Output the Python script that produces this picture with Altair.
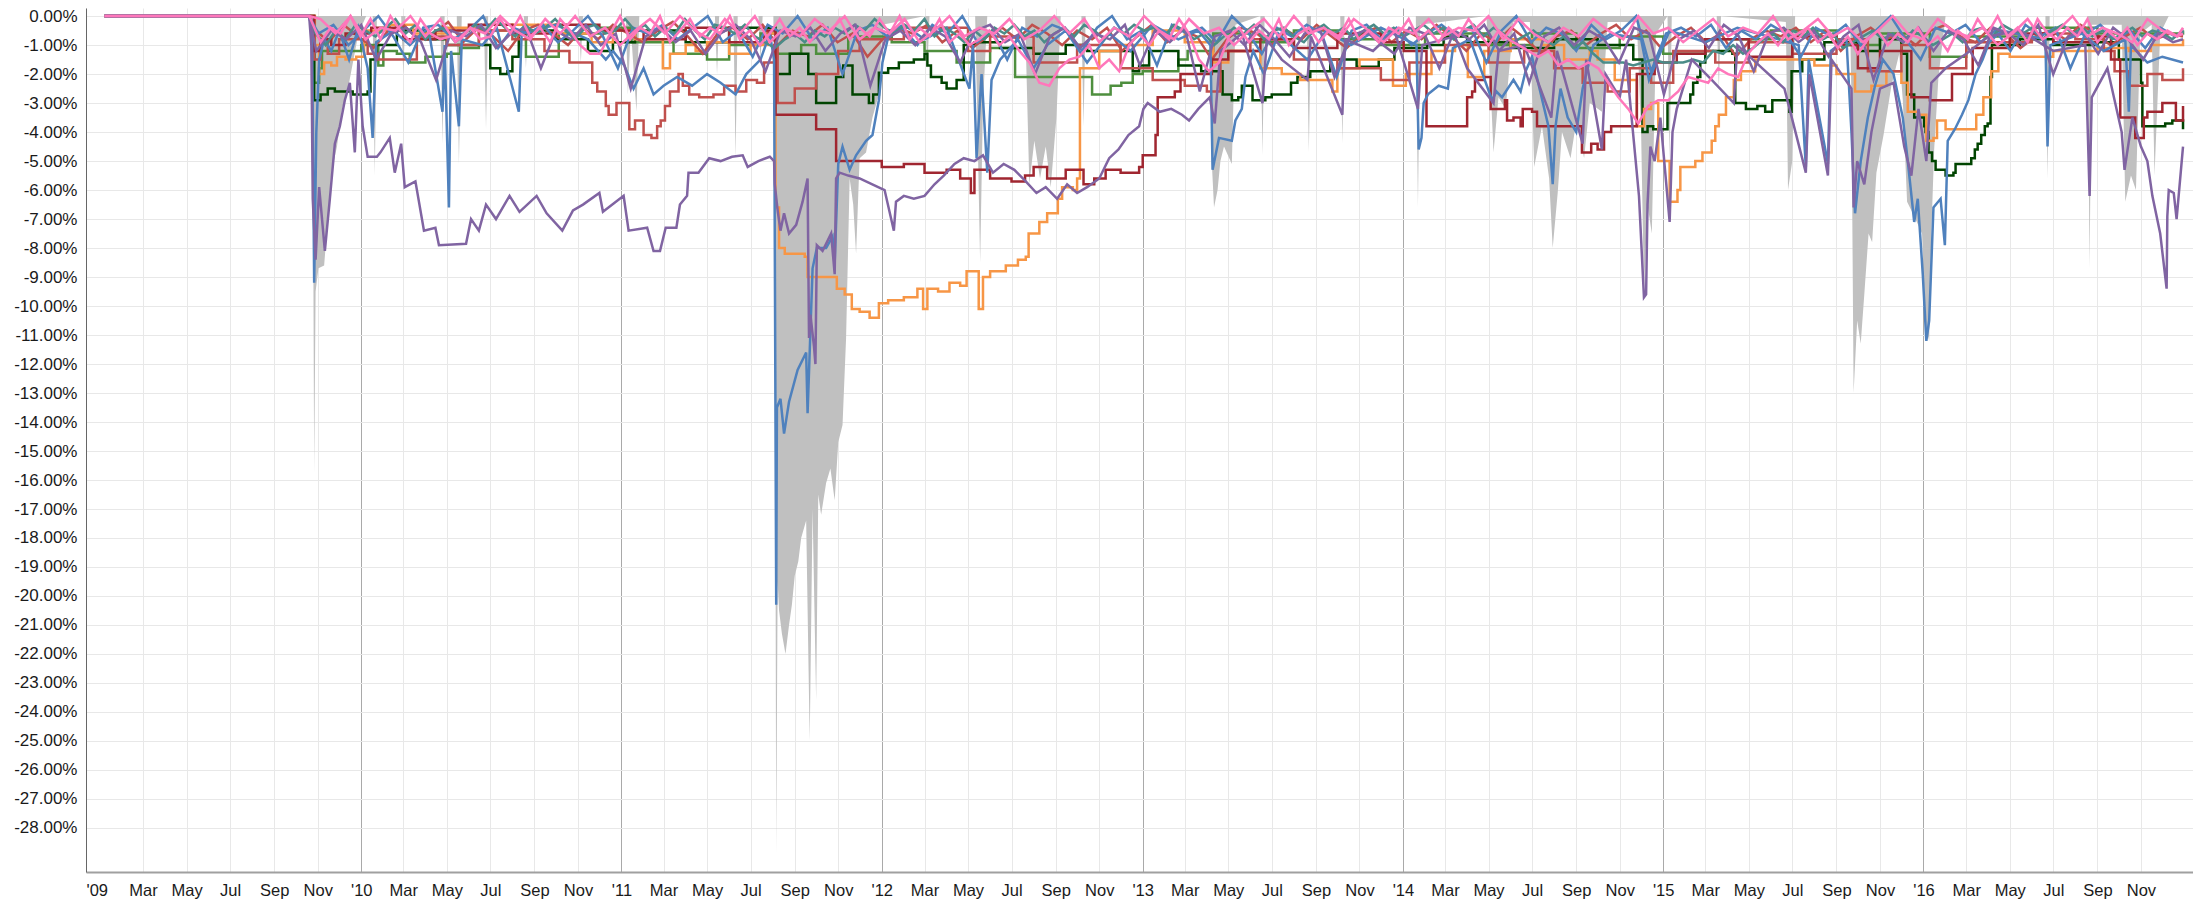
import altair as alt
import pandas as pd

# ---------------- data (drawdown, % units) ----------------
grey_pts = [("2009-01-06",0),("2009-10-22",0),("2009-10-25",-3.0),("2009-10-27",-15.8),("2009-10-29",-9.5),("2009-11-02",-8.7),("2009-11-10",-8.6),("2009-11-15",-7.0),("2009-11-20",-5.4),("2009-11-28",-4.5),("2009-12-05",-3.2),("2009-12-15",-2.3),("2009-12-28",-0.6),("2010-01-08",0),
("2010-01-17",0),("2010-01-20",-5.5),("2010-01-23",0),("2010-02-26",0),("2010-03-01",-2.0),("2010-03-04",0),
("2010-04-22",0),("2010-04-25",-4.4),("2010-04-28",0),("2010-05-15",0),("2010-05-18",-5.1),("2010-05-22",0),
("2010-06-22",0),("2010-06-25",-3.9),("2010-06-28",0),("2010-08-17",0),("2010-08-20",-1.8),("2010-08-23",0),
("2010-11-02",0),("2010-11-05",-1.6),("2010-11-08",0),("2011-01-07",0),("2011-01-10",-2.7),("2011-01-14",-0.4),("2011-01-22",-3.3),("2011-01-26",0),
("2011-05-12",0),("2011-05-15",-2.0),("2011-05-18",0),("2011-06-07",0),("2011-06-10",-4.9),("2011-06-13",0),
("2011-07-12",0),("2011-07-15",-1.5),("2011-07-18",0),
("2011-08-02",0),("2011-08-04",-7.0),("2011-08-06",-28.9),("2011-08-08",-19.5),("2011-08-10",-20.5),("2011-08-14",-21.3),("2011-08-19",-22.0),("2011-08-24",-21.0),("2011-08-28",-20.3),("2011-09-01",-19.3),("2011-09-06",-18.8),("2011-09-10",-18.0),("2011-09-17",-17.4),("2011-09-22",-25.0),("2011-09-26",-17.0),("2011-10-01",-23.6),("2011-10-04",-16.5),("2011-10-08",-17.2),("2011-10-15",-16.1),("2011-10-21",-15.6),("2011-10-27",-16.7),("2011-11-01",-14.7),("2011-11-07",-14.1),("2011-11-12",-11.1),("2011-11-17",-5.6),("2011-11-22",-6.5),("2011-11-26",-8.2),("2011-12-01",-4.9),("2011-12-10",-4.7),("2011-12-19",-3.5),("2011-12-28",-2.7),("2012-01-02",-0.3),
("2012-03-02",0),("2012-03-05",-1.8),("2012-03-08",0),
("2012-05-11",0),("2012-05-14",-3.5),("2012-05-18",-8.5),("2012-05-22",-3.0),("2012-05-28",0),
("2012-07-20",0),("2012-07-26",-5.8),("2012-08-02",-4.3),("2012-08-10",-5.6),("2012-08-18",-4.5),("2012-08-25",-5.9),("2012-09-02",-3.5),("2012-09-08",0),
("2012-10-07",0),("2012-10-10",-3.8),("2012-10-13",0),
("2013-04-04",0),("2013-04-08",-5.1),("2013-04-11",-6.6),("2013-04-16",-6.0),("2013-04-20",-5.0),("2013-04-25",-4.5),("2013-05-06",-5.1),("2013-05-11",-0.3),
("2013-06-15",0),("2013-06-18",-4.8),("2013-06-21",0),("2013-08-19",0),("2013-08-22",-4.7),("2013-08-25",0),
("2013-10-05",0),("2013-10-08",-4.4),("2013-10-11",0),("2014-01-19",0),("2014-01-22",-6.6),("2014-01-25",-0.3),
("2014-04-28",0),("2014-05-04",-2.5),("2014-05-08",-4.7),("2014-05-15",-2.8),("2014-05-25",-3.2),("2014-06-05",-0.2),
("2014-06-28",-0.2),("2014-07-04",-5.2),("2014-07-15",-3.8),("2014-07-25",-5.6),("2014-07-30",-8.0),("2014-08-06",-6.1),("2014-08-12",-4.0),("2014-08-24",-4.9),("2014-09-02",-3.5),("2014-09-12",-4.9),("2014-09-20",-3.0),("2014-10-07",-3.3),("2014-10-15",-0.2),
("2014-11-25",-0.2),("2014-12-01",-4.0),("2014-12-05",-9.5),("2014-12-10",-6.5),("2014-12-16",-7.5),("2014-12-22",-0.6),
("2015-01-07",0),("2015-01-10",-5.0),("2015-01-13",0),("2015-03-17",0),("2015-03-20",-2.5),("2015-03-23",0),
("2015-06-22",-0.2),("2015-06-25",-6.0),("2015-07-01",-5.0),("2015-07-05",0),
("2015-09-20",0),("2015-09-22",-2.9),("2015-09-25",-13.0),("2015-09-30",-10.5),("2015-10-05",-11.3),("2015-10-10",-9.6),("2015-10-16",-7.5),("2015-10-21",-7.8),("2015-10-27",-5.4),("2015-11-06",-4.1),("2015-11-17",-2.4),("2015-11-28",-1.3),("2015-12-03",-2.9),("2015-12-09",-6.4),("2015-12-19",-6.9),("2015-12-30",-7.5),("2016-01-04",-10.7),("2016-01-09",-11.2),("2016-01-12",-7.5),("2016-01-16",-4.6),("2016-01-22",-2.1),("2016-02-01",0),
("2016-06-20",0),("2016-06-23",-5.6),("2016-06-26",0),("2016-08-18",0),("2016-08-21",-8.7),("2016-08-24",-0.3),
("2016-10-05",-0.3),("2016-10-10",-6.4),("2016-10-18",-5.5),("2016-10-25",-6.0),("2016-10-31",-0.6),
("2016-11-16",-0.3),("2016-11-20",-5.5),("2016-11-28",-0.6),("2016-12-10",0),("2016-12-30",0)]

blue_pts = [("2009-01-06",0),("2009-10-20",0),("2009-10-24",-0.5),("2009-10-27",-9.2),("2009-10-30",-4.0),("2009-11-03",-1.5),("2009-11-10",-0.8),("2009-11-20",-1.2),("2009-12-01",-0.5),("2009-12-15",-1.5),("2009-12-28",-0.4),("2010-01-10",-1.8),("2010-01-17",-4.2),("2010-01-22",-0.9),("2010-02-15",-0.5),("2010-03-10",-1.0),("2010-04-05",-0.4),("2010-04-25",-3.3),("2010-04-28",-1.0),("2010-05-04",-6.6),("2010-05-07",-1.2),("2010-05-18",-3.8),("2010-05-22",-0.8),("2010-06-20",-1.0),("2010-07-10",-0.4),("2010-08-10",-3.3),("2010-08-14",-0.6),("2010-10-01",-0.3),("2010-11-15",-0.8),("2010-12-10",-1.5),("2010-12-20",-1.2),("2011-01-05",-1.7),("2011-01-18",-2.5),("2011-02-01",-1.8),("2011-02-15",-2.7),("2011-03-01",-2.4),("2011-03-20",-2.1),("2011-04-10",-2.4),("2011-05-01",-2.0),("2011-05-20",-2.3),("2011-06-10",-2.7),("2011-06-25",-2.0),("2011-07-15",-1.5),("2011-07-28",-0.6),("2011-08-03",-1.5),("2011-08-06",-20.3),("2011-08-07",-13.5),("2011-08-12",-13.2),("2011-08-17",-14.4),("2011-08-24",-13.3),("2011-09-05",-12.2),("2011-09-17",-11.6),("2011-09-19",-13.7),("2011-09-26",-8.7),("2011-10-02",-8.0),("2011-10-15",-8.0),("2011-10-24",-7.6),("2011-10-27",-8.5),("2011-11-01",-5.1),("2011-11-07",-4.5),("2011-11-17",-5.3),("2011-11-26",-4.8),("2011-12-10",-4.3),("2011-12-19",-4.1),("2011-12-28",-2.9),("2012-01-02",-1.6),("2012-01-12",-0.5),("2012-02-01",-0.3),("2012-03-01",-0.8),("2012-04-01",-0.4),("2012-05-03",-2.5),("2012-05-08",-1.0),("2012-05-13",-4.9),("2012-05-20",-2.0),("2012-05-28",-5.4),("2012-06-03",-2.2),("2012-06-15",-1.5),("2012-07-10",-0.8),("2012-08-01",-1.8),("2012-08-20",-1.0),("2012-09-15",-0.5),("2012-10-15",-1.6),("2012-11-15",-0.6),("2012-12-15",-1.2),("2013-01-15",-0.3),("2013-02-20",-0.8),("2013-03-20",-0.5),("2013-04-06",-1.0),("2013-04-09",-5.3),("2013-04-18",-4.2),("2013-05-06",-4.3),("2013-05-11",-3.6),("2013-05-20",-3.2),("2013-05-25",-2.1),("2013-06-05",-1.2),("2013-06-20",-2.0),("2013-07-10",-0.6),("2013-08-20",-1.5),("2013-09-15",-0.5),("2013-10-20",-1.0),("2013-12-01",-0.4),("2014-01-20",-1.0),("2014-01-23",-4.6),("2014-01-27",-4.2),("2014-01-30",-3.0),("2014-02-05",-2.7),("2014-02-20",-2.4),("2014-03-05",-2.5),("2014-03-12",-1.1),("2014-04-05",-0.8),("2014-05-06",-2.9),("2014-05-12",-2.6),("2014-05-20",-2.8),("2014-06-05",-2.2),("2014-06-15",-2.6),("2014-06-22",-1.9),("2014-07-01",-1.4),("2014-07-24",-3.8),("2014-07-30",-5.8),("2014-08-03",-3.8),("2014-08-10",-2.5),("2014-08-20",-3.5),("2014-09-01",-4.0),("2014-09-10",-2.5),("2014-09-25",-1.0),("2014-10-20",-0.6),("2014-12-01",-0.8),("2014-12-12",-2.2),("2015-01-10",-0.5),("2015-03-01",-0.9),("2015-04-15",-0.4),("2015-07-10",-1.0),("2015-07-20",-5.2),("2015-07-24",-1.5),("2015-08-20",-5.1),("2015-08-24",-1.2),("2015-09-15",-0.8),("2015-09-22",-4.0),("2015-09-27",-6.8),("2015-10-05",-5.0),("2015-10-15",-3.5),("2015-10-25",-2.4),("2015-11-05",-1.5),("2015-11-20",-2.0),("2015-12-03",-3.5),("2015-12-10",-5.0),("2015-12-19",-7.1),("2015-12-24",-6.3),("2015-12-31",-8.9),("2016-01-05",-11.2),("2016-01-09",-10.5),("2016-01-15",-6.6),("2016-01-25",-6.3),("2016-01-31",-7.9),("2016-02-04",-4.3),("2016-02-14",-3.9),("2016-02-24",-3.4),("2016-03-04",-2.9),("2016-03-14",-2.0),("2016-03-24",-1.5),("2016-04-02",-0.9),("2016-04-20",-0.5),("2016-06-20",-0.8),("2016-06-23",-4.5),("2016-06-27",-1.0),("2016-08-10",-0.6),("2016-09-10",-1.2),("2016-10-10",-0.8),("2016-10-15",-3.3),("2016-10-18",-1.0),("2016-11-10",-1.6),("2016-12-01",-1.4),("2016-12-30",-1.6)]

purple_pts = [("2009-01-06",0),("2009-10-20",0),("2009-10-23",-1.0),("2009-10-25",-6.3),("2009-10-29",-8.4),("2009-11-03",-5.9),("2009-11-11",-8.1),("2009-11-18",-6.3),("2009-11-25",-4.4),("2009-12-02",-3.8),("2009-12-09",-2.9),("2009-12-16",-2.3),("2009-12-23",-4.7),("2009-12-28",-1.5),("2010-01-03",-3.8),("2010-01-10",-4.85),("2010-01-23",-4.85),("2010-01-28",-4.7),("2010-02-10",-4.2),("2010-02-17",-5.4),("2010-02-26",-4.4),("2010-03-03",-5.9),("2010-03-18",-5.7),("2010-03-30",-7.4),("2010-04-15",-7.3),("2010-04-20",-7.9),("2010-05-28",-7.85),("2010-06-04",-7.0),("2010-06-15",-7.4),("2010-06-25",-6.5),("2010-07-09",-7.0),("2010-07-28",-6.2),("2010-08-11",-6.75),("2010-09-04",-6.2),("2010-09-18",-6.8),("2010-10-10",-7.4),("2010-10-25",-6.7),("2010-11-08",-6.5),("2010-12-01",-6.1),("2010-12-06",-6.75),("2011-01-04",-6.2),("2011-01-11",-7.4),("2011-02-06",-7.3),("2011-02-15",-8.1),("2011-02-24",-8.1),("2011-03-04",-7.3),("2011-03-19",-7.3),("2011-03-24",-6.5),("2011-04-03",-6.2),("2011-04-05",-5.4),("2011-04-19",-5.4),("2011-05-04",-4.9),("2011-05-20",-5.0),("2011-06-05",-4.85),("2011-06-20",-4.8),("2011-06-27",-5.2),("2011-07-12",-5.0),("2011-07-28",-4.85),("2011-08-03",-5.0),("2011-08-04",-5.8),("2011-08-08",-6.7),("2011-08-12",-7.4),("2011-08-17",-6.8),("2011-08-24",-7.5),("2011-09-03",-7.2),("2011-09-12",-6.4),("2011-09-19",-5.6),("2011-09-21",-11.1),("2011-09-23",-10.3),("2011-09-28",-11.4),("2011-09-30",-12.0),("2011-10-02",-7.9),("2011-10-10",-8.1),("2011-10-18",-7.7),("2011-10-22",-7.5),("2011-10-27",-8.9),("2011-10-29",-5.6),("2011-11-03",-5.4),("2011-11-15",-5.5),("2011-12-01",-5.6),("2011-12-27",-5.9),("2012-01-05",-6.0),("2012-01-18",-7.4),("2012-01-21",-6.4),("2012-02-01",-6.2),("2012-02-15",-6.3),("2012-03-01",-6.2),("2012-03-15",-5.8),("2012-03-28",-5.5),("2012-04-12",-5.1),("2012-04-25",-4.9),("2012-05-10",-5.0),("2012-05-22",-4.8),("2012-06-05",-5.4),("2012-06-20",-5.1),("2012-07-05",-5.3),("2012-07-21",-5.7),("2012-08-05",-6.1),("2012-08-18",-5.9),("2012-09-03",-6.3),("2012-09-17",-5.8),("2012-10-01",-6.1),("2012-10-15",-5.9),("2012-11-01",-5.6),("2012-11-15",-4.9),("2012-11-28",-4.6),("2012-12-12",-4.1),("2012-12-27",-3.8),("2013-01-02",-3.2),("2013-01-08",-3.0),("2013-01-25",-3.3),("2013-02-10",-3.2),("2013-02-25",-3.4),("2013-03-07",-3.6),("2013-03-20",-3.2),("2013-04-05",-2.8),("2013-04-12",-3.7),("2013-04-20",-1.2),("2013-05-20",-0.6),("2013-06-18",-3.0),("2013-06-24",-0.8),("2013-07-15",-1.5),("2013-08-20",-2.2),("2013-08-25",-0.7),("2013-10-08",-3.4),("2013-10-12",-0.8),("2013-11-20",-1.2),("2013-12-20",-0.5),("2014-01-22",-3.2),("2014-01-28",-1.0),("2014-03-15",-0.7),("2014-04-01",-1.8),("2014-05-08",-3.0),("2014-05-15",-1.2),("2014-06-20",-1.0),("2014-07-28",-3.5),("2014-08-05",-1.2),("2014-09-10",-4.4),("2014-09-15",-1.5),("2014-10-07",-4.6),("2014-10-12",-2.0),("2014-11-01",-2.8),("2014-11-10",-1.5),("2014-11-28",-6.2),("2014-12-05",-9.7),("2014-12-08",-9.6),("2014-12-10",-6.5),("2014-12-14",-4.5),("2014-12-20",-5.0),("2014-12-28",-3.5),("2015-01-10",-7.1),("2015-01-14",-4.0),("2015-01-20",-3.2),("2015-02-10",-1.5),("2015-03-10",-2.2),("2015-04-10",-3.0),("2015-04-15",-1.0),("2015-05-20",-1.8),("2015-06-20",-2.5),("2015-07-20",-5.4),("2015-07-25",-2.0),("2015-08-20",-5.5),("2015-08-25",-1.5),("2015-09-22",-2.5),("2015-09-25",-6.6),("2015-09-30",-5.0),("2015-10-10",-5.8),("2015-10-20",-4.0),("2015-11-01",-2.5),("2015-11-20",-2.3),("2015-12-05",-4.5),("2015-12-15",-5.5),("2015-12-25",-3.2),("2016-01-05",-5.0),("2016-01-12",-2.3),("2016-02-01",-1.8),("2016-03-01",-1.3),("2016-04-01",-0.7),("2016-05-15",-0.5),("2016-07-01",-1.2),("2016-08-15",-1.0),("2016-08-21",-6.2),("2016-08-24",-2.8),("2016-09-15",-1.8),("2016-10-05",-4.0),("2016-10-09",-5.3),("2016-10-20",-3.5),("2016-11-01",-4.5),("2016-11-10",-5.0),("2016-11-17",-6.2),("2016-11-28",-7.5),("2016-12-07",-9.4),("2016-12-08",-6.9),("2016-12-10",-6.0),("2016-12-17",-6.1),("2016-12-21",-7.0),("2016-12-30",-4.5)]

orange_pts = [("2009-01-06",0),("2009-10-20",0),("2009-10-28",-1.0),("2009-11-03",-2.0),("2009-11-10",-1.6),("2009-11-20",-1.7),("2009-11-28",-1.4),("2009-12-10",-1.5),("2009-12-25",-1.4),("2010-01-05",-0.5),("2010-02-10",-0.3),("2010-03-15",-0.6),("2010-05-01",-0.4),("2010-06-15",-0.5),("2010-08-01",-0.3),("2010-10-01",-0.6),("2010-11-20",-0.9),("2010-12-20",-0.5),("2011-01-20",-0.8),("2011-02-28",-1.8),("2011-03-10",-1.3),("2011-04-01",-1.0),("2011-04-15",-1.2),("2011-05-01",-0.9),("2011-06-01",-1.3),("2011-07-01",-1.0),("2011-07-25",-0.6),("2011-08-05",-6.6),("2011-08-10",-8.0),("2011-08-18",-8.2),("2011-09-15",-8.3),("2011-09-19",-9.0),("2011-10-25",-9.0),("2011-10-30",-9.4),("2011-11-10",-9.6),("2011-11-20",-10.1),("2011-12-01",-10.2),("2011-12-15",-10.4),("2011-12-28",-9.9),("2012-01-10",-9.8),("2012-02-01",-9.7),("2012-02-20",-9.4),("2012-02-28",-10.1),("2012-03-05",-9.4),("2012-03-20",-9.5),("2012-04-05",-9.2),("2012-04-20",-9.3),("2012-04-29",-8.8),("2012-05-16",-10.1),("2012-05-22",-9.0),("2012-06-01",-8.8),("2012-06-23",-8.6),("2012-07-10",-8.4),("2012-07-21",-8.3),("2012-07-25",-7.5),("2012-08-09",-7.1),("2012-08-20",-6.8),("2012-09-04",-6.3),("2012-09-10",-5.9),("2012-09-25",-6.0),("2012-10-01",-5.6),("2012-10-05",-1.8),("2012-11-01",-1.2),("2012-12-01",-1.0),("2013-01-15",-0.5),("2013-03-01",-0.9),("2013-04-10",-1.6),("2013-05-01",-1.2),("2013-06-15",-1.8),("2013-07-15",-2.0),("2013-08-10",-2.2),("2013-09-24",-2.6),("2013-10-01",-1.8),("2013-11-01",-1.5),("2013-12-18",-2.4),("2014-01-05",-2.0),("2014-02-10",-1.2),("2014-03-15",-1.0),("2014-04-02",-2.1),("2014-04-25",-1.2),("2014-06-01",-0.8),("2014-07-15",-1.0),("2014-08-15",-1.5),("2014-09-20",-1.2),("2014-10-01",-1.5),("2014-10-25",-2.2),("2014-11-25",-3.8),("2014-12-05",-3.2),("2014-12-15",-3.0),("2014-12-25",-5.0),("2015-01-10",-6.4),("2015-01-21",-6.0),("2015-01-25",-5.2),("2015-02-15",-5.0),("2015-02-25",-4.7),("2015-03-10",-4.3),("2015-03-15",-3.8),("2015-03-20",-3.4),("2015-03-30",-2.8),("2015-04-10",-2.2),("2015-04-20",-1.9),("2015-05-10",-1.5),("2015-07-01",-1.5),("2015-08-01",-1.7),("2015-09-01",-2.0),("2015-09-27",-2.6),("2015-10-20",-2.4),("2015-11-10",-1.9),("2015-12-01",-2.3),("2015-12-10",-3.3),("2015-12-25",-3.4),("2016-01-05",-4.3),("2016-01-15",-4.2),("2016-01-20",-3.6),("2016-02-01",-3.9),("2016-03-15",-3.4),("2016-03-25",-2.8),("2016-04-05",-1.9),("2016-04-15",-1.3),("2016-05-01",-1.4),("2016-07-01",-1.2),("2016-09-01",-1.1),("2016-10-15",-1.2),("2016-11-15",-1.0),("2016-12-30",-0.8)]

darkred_pts = [("2009-01-06",0),("2009-10-20",0),("2009-10-27",-1.2),("2009-11-05",-0.8),("2009-11-20",-1.0),("2009-12-10",-0.6),("2010-01-15",-0.4),("2010-03-01",-0.8),("2010-04-15",-0.5),("2010-06-01",-0.3),("2010-08-01",-0.6),("2010-10-01",-0.3),("2010-12-01",-0.5),("2011-02-01",-0.8),("2011-04-01",-0.4),("2011-06-01",-0.9),("2011-07-20",-0.5),("2011-08-05",-3.4),("2011-10-01",-3.9),("2011-10-29",-5.0),("2012-01-01",-5.2),("2012-02-01",-5.1),("2012-03-01",-5.4),("2012-04-01",-5.3),("2012-04-20",-5.6),("2012-05-05",-6.1),("2012-05-10",-5.3),("2012-06-01",-5.6),("2012-07-01",-5.7),("2012-07-20",-5.5),("2012-08-01",-5.2),("2012-08-20",-5.6),("2012-09-15",-5.3),("2012-10-10",-5.8),("2012-10-25",-5.6),("2012-11-10",-5.3),("2012-12-01",-5.4),("2012-12-27",-5.2),("2013-01-01",-4.8),("2013-01-19",-4.1),("2013-01-22",-2.8),("2013-02-15",-2.6),("2013-02-23",-2.0),("2013-04-08",-1.5),("2013-05-01",-1.2),("2013-06-15",-0.8),("2013-08-01",-1.1),("2013-10-01",-0.6),("2013-12-01",-0.9),("2014-01-02",-1.2),("2014-02-03",-3.8),("2014-04-01",-2.8),("2014-04-08",-2.6),("2014-04-12",-2.2),("2014-04-25",-2.1),("2014-05-04",-3.2),("2014-05-24",-2.9),("2014-05-27",-3.6),("2014-06-05",-3.5),("2014-06-15",-3.8),("2014-06-18",-3.2),("2014-07-01",-3.3),("2014-07-08",-3.8),("2014-09-09",-4.7),("2014-09-22",-4.4),("2014-10-01",-4.6),("2014-10-10",-4.0),("2014-10-20",-3.8),("2014-11-25",-2.0),("2014-12-20",-1.6),("2015-01-20",-1.3),("2015-03-01",-0.8),("2015-05-01",-1.4),("2015-07-01",-0.7),("2015-09-01",-1.0),("2015-10-01",-1.8),("2015-11-01",-1.2),("2015-12-15",-2.8),("2016-01-10",-2.9),("2016-02-10",-2.0),("2016-03-10",-1.1),("2016-05-01",-0.6),("2016-07-01",-0.9),("2016-09-01",-0.7),("2016-09-20",-1.5),("2016-10-03",-3.5),("2016-10-24",-4.2),("2016-11-05",-3.5),("2016-11-10",-3.3),("2016-12-01",-3.0),("2016-12-20",-3.6),("2016-12-30",-3.1)]

red_pts = [("2009-01-06",0),("2009-10-20",0),("2009-10-27",-1.5),("2009-11-05",-0.9),("2009-11-15",-1.3),("2009-12-01",-0.8),("2010-01-10",-1.3),("2010-01-25",-1.5),("2010-03-20",-0.7),("2010-05-01",-1.0),("2010-06-15",-0.5),("2010-08-01",-0.8),("2010-09-15",-1.2),("2010-10-20",-1.6),("2010-11-21",-2.3),("2010-11-28",-2.6),("2010-12-10",-3.1),("2010-12-14",-3.4),("2010-12-25",-3.0),("2011-01-12",-3.9),("2011-01-20",-3.6),("2011-02-01",-4.1),("2011-02-12",-4.2),("2011-02-20",-3.8),("2011-02-25",-3.6),("2011-03-03",-3.1),("2011-03-10",-2.6),("2011-03-22",-2.0),("2011-03-28",-2.4),("2011-04-06",-2.7),("2011-04-20",-2.8),("2011-05-10",-2.7),("2011-05-25",-2.4),("2011-06-10",-2.6),("2011-06-25",-2.2),("2011-07-10",-2.3),("2011-07-20",-1.6),("2011-08-03",-1.0),("2011-08-08",-3.0),("2011-09-01",-2.5),("2011-10-01",-2.0),("2011-11-01",-1.2),("2011-12-01",-0.8),("2012-02-01",-0.4),("2012-05-01",-1.2),("2012-06-01",-0.7),("2012-08-01",-1.6),("2012-10-01",-1.0),("2012-12-01",-1.8),("2013-01-15",-2.2),("2013-03-01",-2.4),("2013-04-01",-2.6),("2013-04-20",-1.2),("2013-06-01",-0.8),("2013-08-01",-1.5),("2013-10-01",-1.8),("2013-12-01",-2.2),("2014-01-10",-1.6),("2014-03-01",-1.0),("2014-05-01",-1.6),("2014-06-20",-1.2),("2014-08-01",-1.8),("2014-09-10",-2.3),("2014-10-15",-2.6),("2014-11-15",-1.8),("2014-12-15",-2.3),("2015-01-15",-1.2),("2015-03-15",-1.6),("2015-05-01",-0.9),("2015-07-01",-1.3),("2015-09-01",-0.8),("2015-10-15",-1.9),("2015-12-01",-1.0),("2016-01-10",-1.8),("2016-03-01",-0.9),("2016-06-01",-0.6),("2016-08-01",-0.8),("2016-09-10",-1.2),("2016-09-25",-1.9),("2016-10-15",-2.4),("2016-11-10",-2.0),("2016-12-01",-2.2),("2016-12-30",-1.8)]

darkgreen_pts = [("2009-01-06",0),("2009-10-20",0),("2009-10-27",-2.9),("2009-11-05",-2.7),("2009-11-15",-2.5),("2009-11-25",-2.6),("2009-12-20",-2.7),("2010-01-10",-2.6),("2010-01-14",-1.5),("2010-01-22",-1.0),("2010-02-20",-0.5),("2010-04-01",-0.8),("2010-05-01",-1.0),("2010-07-01",-1.8),("2010-07-15",-2.0),("2010-07-25",-1.9),("2010-08-01",-1.4),("2010-08-10",-0.5),("2010-10-01",-0.8),("2010-11-15",-1.2),("2010-12-20",-0.9),("2011-01-20",-0.5),("2011-04-01",-0.9),("2011-06-01",-0.4),("2011-08-05",-2.0),("2011-08-25",-1.3),("2011-09-20",-2.0),("2011-10-01",-3.0),("2011-10-29",-2.1),("2011-11-08",-1.7),("2011-11-21",-2.7),("2011-12-14",-3.0),("2011-12-20",-2.7),("2011-12-28",-1.95),("2012-01-10",-1.8),("2012-01-25",-1.6),("2012-02-15",-1.5),("2012-03-01",-1.3),("2012-03-05",-1.7),("2012-03-10",-2.1),("2012-03-25",-2.3),("2012-04-01",-2.5),("2012-04-15",-2.2),("2012-04-25",-1.0),("2012-05-10",-0.9),("2012-06-15",-1.1),("2012-08-01",-1.3),("2012-09-15",-1.0),("2012-10-15",-1.2),("2012-12-18",-1.9),("2012-12-27",-1.7),("2013-01-10",-1.2),("2013-02-20",-1.7),("2013-03-24",-1.9),("2013-04-23",-2.7),("2013-05-06",-2.9),("2013-05-15",-2.8),("2013-05-20",-2.4),("2013-06-04",-2.9),("2013-06-22",-2.8),("2013-07-01",-2.7),("2013-07-28",-2.3),("2013-08-06",-2.1),("2013-08-24",-1.9),("2013-09-21",-1.5),("2013-10-28",-1.75),("2013-11-28",-1.5),("2013-12-20",-1.1),("2014-02-04",-1.0),("2014-02-27",-0.7),("2014-04-01",-0.9),("2014-06-01",-1.1),("2014-08-01",-0.8),("2014-10-01",-1.0),("2014-11-20",-1.5),("2014-12-03",-4.0),("2014-12-10",-3.8),("2014-12-18",-3.9),("2015-01-07",-3.0),("2015-02-08",-2.7),("2015-02-12",-2.3),("2015-02-18",-2.1),("2015-02-22",-1.6),("2015-03-01",-1.2),("2015-04-08",-1.3),("2015-04-12",-3.0),("2015-04-27",-3.2),("2015-05-13",-3.1),("2015-05-24",-3.3),("2015-06-03",-2.9),("2015-06-27",-3.3),("2015-06-30",-1.9),("2015-07-15",-1.5),("2015-08-15",-0.9),("2015-10-01",-1.2),("2015-11-01",-0.8),("2015-12-01",-1.3),("2015-12-09",-2.7),("2015-12-19",-3.5),("2016-01-02",-3.8),("2016-01-04",-4.0),("2016-01-08",-4.7),("2016-01-13",-5.0),("2016-01-18",-5.3),("2016-02-01",-5.5),("2016-02-12",-5.4),("2016-02-15",-5.1),("2016-03-08",-4.9),("2016-03-13",-4.6),("2016-03-17",-4.4),("2016-03-22",-4.1),("2016-03-27",-3.8),("2016-03-31",-3.7),("2016-04-04",-2.1),("2016-04-06",-1.0),("2016-05-15",-0.8),("2016-07-01",-1.0),("2016-09-01",-0.9),("2016-10-01",-1.5),("2016-11-01",-2.3),("2016-11-03",-3.8),("2016-12-05",-3.7),("2016-12-15",-3.6),("2016-12-30",-3.9)]

green_pts = [("2009-01-06",0),("2009-10-20",0),("2009-10-27",-2.3),("2009-11-03",-1.8),("2009-11-07",-1.2),("2009-12-10",-1.2),("2010-01-01",-1.0),("2010-01-25",-1.7),("2010-02-01",-1.2),("2010-02-20",-1.3),("2010-03-10",-1.6),("2010-04-01",-1.4),("2010-05-01",-1.3),("2010-05-20",-1.1),("2010-06-15",-0.5),("2010-08-20",-1.4),("2010-10-05",-0.6),("2010-12-01",-0.4),("2011-01-15",-0.9),("2011-03-15",-1.3),("2011-05-01",-1.5),("2011-06-01",-1.0),("2011-07-15",-0.6),("2011-08-06",-1.3),("2011-09-10",-1.0),("2011-10-01",-1.3),("2011-11-15",-0.7),("2012-01-15",-0.9),("2012-03-01",-1.2),("2012-04-15",-1.6),("2012-06-01",-1.1),("2012-07-06",-2.1),("2012-10-22",-2.7),("2012-11-17",-2.4),("2012-12-02",-2.3),("2012-12-18",-2.0),("2013-01-01",-1.9),("2013-02-20",-1.5),("2013-03-05",-1.2),("2013-04-10",-0.6),("2013-06-01",-0.9),("2013-08-01",-0.5),("2013-10-01",-0.8),("2013-12-01",-1.0),("2014-02-01",-0.6),("2014-05-01",-1.0),("2014-07-01",-0.6),("2014-09-01",-1.1),("2014-11-01",-0.7),("2015-01-01",-1.3),("2015-03-01",-0.8),("2015-06-01",-0.5),("2015-09-01",-1.0),("2015-11-01",-0.6),("2016-01-10",-1.4),("2016-03-01",-0.7),("2016-06-01",-0.4),("2016-09-01",-0.6),("2016-12-30",-0.5)]

# noisy top-band series, sampled every 14 days
pink_start = "2009-10-22"
pink_2009 = [-0.1,-0.9,-0.4,-0.6,0.0,-0.7]
pink_2010 = [-0.1,-0.8,0.0,-0.5,-0.9,-0.1,-0.6,-0.8,-0.7,-0.8,-0.4,-0.8,-0.7,-0.1,-0.6,0.0,-0.7,-0.4,-0.9,-0.1,-0.5,-1.0,-1.3,-1.3,-0.6,0.0]
pink_2011 = [-0.8,-0.4,-0.6,0.0,-0.9,-0.5,-0.1,-0.7,-0.4,-0.6,0.0,-0.8,-0.5,-1.0,-0.6,-0.1,-0.7,-0.4,-0.9,-0.5,-0.6,-0.1,-0.8,-0.4,-0.7,-0.1]
pink_2012 = [-0.6,0.0,-0.8,-0.4,-0.7,-0.1,-0.9,-0.6,-1.0,-0.8,-0.5,-1.0,-0.7,-1.2,-1.6,-2.3,-2.4,-1.8,-1.5,-1.4,-1.0,-1.8,-1.5,-1.9,-1.0,-0.6]
pink_2013 = [-1.0,-0.5,-0.8,-0.1,-0.6,-1.5,-1.9,-1.6,-0.7,-0.4,-0.9,-0.5,-0.8,-0.1,-1.0,-0.6,-0.4,-0.9,-0.5,-0.7,-0.1,-0.8,-0.5,-0.9,-0.4,-0.6]
pink_2014 = [-0.1,-0.8,-0.5,-0.9,-0.4,-0.7,-0.1,-0.6,-1.0,-0.5,-0.8,-1.0,-1.2,-1.4,-1.2,-1.7,-1.5,-1.8,-1.6,-1.8,-2.3,-2.8,-3.2,-3.7,-3.1,-2.9]
pink_2015 = [-2.9,-2.6,-2.1,-2.2,-2.3,-1.8,-2.0,-2.1,-1.3,-0.9,-0.6,-1.0,-0.5,-0.8,-0.4,-0.9,-0.6,-1.1,-0.7,-1.3,-0.8,-0.5,-1.0,-0.6,-0.9,-0.4]
pink_2016 = [-1.0,-0.7,-1.2,-0.5,-0.8,-0.1,-0.6,0.0,-0.7,-0.4,-0.9,-0.1,-0.6,-0.8,-0.4,-0.7,-0.1,-0.9,-0.5,-0.8,-0.4,-1.0,-0.6,-0.8,-0.5,-0.7]

teal_start = "2009-10-29"
teal_2009 = [-0.6,-1.0,-0.5,-0.8,-0.3,-0.5]
teal_2010 = [-0.7,-0.4,-0.1,-0.6,-0.3,-0.8,-0.5,-0.4,-0.9,-0.6,-0.3,-0.5,-0.1,-0.4,-0.7,-0.3,-0.6,-0.4,-0.1,-0.5,-0.8,-0.4,-0.3,-0.6,-0.5,-0.1]
teal_2011 = [-0.5,-0.3,-0.7,-0.4,-0.6,-0.1,-0.5,-0.8,-0.3,-0.4,-0.6,-0.3,-0.7,-0.9,-1.1,-0.8,-0.6,-0.9,-0.5,-0.7,-0.4,-0.6,-0.3,-0.5,-0.1,-0.4]
teal_2012 = [-0.6,-0.3,-0.5,-0.1,-0.7,-0.4,-0.6,-0.9,-0.5,-0.8,-0.4,-0.6,-0.3,-0.7,-0.5,-0.9,-0.6,-0.4,-0.7,-0.3,-0.5,-0.8,-0.4,-0.6,-0.3,-0.5]
teal_2013 = [-0.4,-0.7,-0.3,-0.5,-0.8,-0.6,-1.0,-0.7,-0.4,-0.6,-0.3,-0.8,-0.5,-0.4,-0.7,-0.9,-0.5,-0.3,-0.6,-0.4,-0.8,-0.5,-0.3,-0.6,-0.4,-0.7]
teal_2014 = [-0.5,-0.3,-0.6,-0.4,-0.8,-0.5,-0.3,-0.7,-0.4,-0.6,-0.9,-0.7,-0.5,-0.8,-1.0,-0.7,-1.1,-0.9,-1.3,-1.6,-1.6,-1.6,-1.7,-1.6,-1.5,-1.6]
teal_2015 = [-1.6,-1.6,-1.5,-1.6,-1.2,-1.3,-1.0,-1.3,-1.1,-0.8,-0.6,-0.9,-0.5,-0.7,-0.4,-0.8,-0.6,-1.1,-0.9,-0.7,-0.5,-0.8,-0.6,-0.9,-0.5,-0.7]
teal_2016 = [-1.0,-0.8,-0.6,-0.9,-0.5,-0.4,-0.7,-0.3,-0.5,-0.6,-0.4,-0.8,-0.5,-0.3,-0.6,-0.4,-0.7,-0.5,-0.8,-0.6,-0.4,-0.7,-0.5,-0.6,-0.8,-0.5]

# further top-band series, sampled every 21 days
red2_start = "2009-10-26"
red2_vals = [
    [-0.4,-0.9,-0.3,-0.7,-1.1,-0.5,-0.3,-0.8,-0.6,-0.2,-0.9,-0.4,-0.7,-1.2,-0.5,-0.3,-0.6,-1.0,-0.4,-0.8,-0.3,-0.6,-0.9,-0.5,-0.2],
    [-0.7,-1.3,-0.6,-0.4,-0.8,-0.3,-1.0,-0.5,-0.7,-0.3,-0.9,-0.6,-1.4,-0.8,-0.4,-0.6,-0.3,-0.9,-0.5,-1.1,-0.7,-0.4,-0.8,-0.3,-0.6],
    [-1.0,-0.5,-0.8,-0.4,-1.2,-0.7,-0.3,-0.9,-0.5,-0.7,-1.5,-0.8,-0.4,-0.6,-1.0,-0.5,-0.8,-0.3,-0.7,-1.1,-0.6,-0.4,-0.9,-0.5,-0.8],
    [-0.3,-0.7,-1.2,-0.6,-0.9,-0.4,-0.8,-1.3,-0.7,-0.5,-1.0,-0.6,-0.3,-0.8,-0.5,-1.1,-0.7,-0.4,-0.9,-0.6,-1.4,-0.8,-0.5,-0.7,-0.4],
    [-0.9,-0.5,-1.2,-0.7,-0.4,-0.8,-0.6,-1.0,-0.5,-0.3,-0.7,-0.9,-0.4,-0.6,-1.1,-0.7,-0.5,-0.8,-0.3,-0.6,-1.0,-0.7,-0.4,-0.8,-0.6],
]
blue2_start = "2009-11-02"
blue2_vals = [
    [-0.6,-0.3,-1.0,-0.5,0.0,-0.7,-1.6,-0.4,-0.3,-0.8,-0.5,0.0,-1.1,-0.4,-0.6,-0.3,-0.9,-0.5,0.0,-0.7,-1.8,-0.4,-0.6,-0.3,-0.8],
    [-0.4,0.0,-0.9,-0.5,-1.4,-0.3,-0.6,0.0,-0.8,-0.4,-2.0,-0.5,-0.3,-0.7,-0.4,-1.0,-0.3,-0.6,0.0,-0.9,-0.5,-1.5,-0.4,-0.7,-0.3],
    [-0.5,-1.2,-0.4,0.0,-0.8,-0.5,-1.7,-0.3,-0.6,-0.4,-0.9,0.0,-0.5,-1.3,-0.4,-0.7,-0.3,-0.6,-2.1,-0.5,-0.3,-0.8,-0.4,-1.0,-0.6],
    [-0.3,-0.7,-0.4,-1.6,-0.5,0.0,-0.9,-0.4,-0.6,-1.2,-0.3,-0.8,-0.5,0.0,-1.9,-0.6,-0.4,-0.7,-0.3,-1.1,-0.5,-0.8,-0.3,-0.6,-1.4],
    [-0.4,-0.7,-0.3,-1.0,-0.5,0.0,-0.8,-1.5,-0.4,-0.6,-0.3,-0.9,-0.5,-1.2,-0.3,-0.7,-0.4,-1.8,-0.6,-0.3,-0.8,-0.5,-1.1,-0.4,-0.7],
]
purple2_start = "2009-10-30"
purple2_vals = [
    [-1.2,-0.5,-0.8,-0.3,-1.5,-0.6,-0.4,-0.9,-2.2,-0.5,-0.7,-0.3,-1.1,-0.6,-0.4,-1.8,-0.5,-0.8,-0.3,-1.0,-0.6,-2.5,-0.7,-0.4,-0.9],
    [-0.5,-1.3,-0.6,-0.3,-0.8,-1.9,-0.5,-0.7,-0.4,-1.2,-0.6,-0.3,-2.4,-0.8,-0.5,-1.0,-0.4,-0.7,-1.6,-0.5,-0.3,-0.9,-0.6,-2.0,-0.7],
    [-0.4,-1.1,-0.6,-0.8,-0.3,-1.7,-0.5,-0.9,-0.4,-2.6,-0.7,-0.5,-1.0,-0.3,-0.8,-1.4,-0.6,-0.4,-2.1,-0.7,-0.5,-0.9,-1.3,-0.4,-0.6],
    [-1.8,-0.5,-0.8,-0.3,-1.2,-0.6,-2.3,-0.7,-0.4,-1.0,-0.5,-0.8,-1.6,-0.4,-0.6,-2.7,-0.8,-0.5,-1.1,-0.3,-0.7,-1.9,-0.6,-0.4,-0.9],
    [-0.5,-1.4,-0.7,-0.3,-2.2,-0.6,-0.9,-0.4,-1.2,-0.5,-0.8,-1.7,-0.4,-0.6,-1.0,-0.3,-2.0,-0.7,-0.5,-1.3,-0.4,-0.8,-1.5,-0.6,-0.9],
]
pink2_start = "2009-11-05"
pink2_vals = [
    [-0.1,-0.6,0.0,-0.8,-0.4,-0.5,0.0,-0.7,-0.1,-0.9,-0.4,-0.6,0.0,-0.5,-0.8,-0.1,-0.6,0.0,-0.7,-0.4,-1.0,-0.5,-0.1,-0.6,0.0],
    [-0.5,-0.8,-0.1,-0.6,0.0,-0.9,-0.4,-0.7,-0.1,-0.5,0.0,-0.8,-0.4,-0.6,-0.1,-0.9,-0.5,0.0,-0.7,-0.4,-0.6,-0.1,-0.8,-0.5,0.0],
    [-0.6,-0.1,-0.9,-0.4,-0.7,0.0,-0.5,-0.8,-0.1,-0.6,-0.4,-1.0,-0.5,-0.1,-0.7,0.0,-0.6,-0.4,-0.8,-0.1,-0.5,-0.9,-0.4,-0.6,-0.1],
    [-0.7,-0.4,-0.5,0.0,-0.8,-0.1,-0.6,-0.9,-0.4,-0.7,-0.1,-0.5,-0.8,0.0,-0.6,-0.4,-0.9,-0.5,-0.1,-0.7,-0.4,-0.6,0.0,-0.8,-0.5],
    [-0.1,-0.7,-0.4,-0.9,-0.5,0.0,-0.6,-0.8,-0.1,-0.5,-0.7,-0.4,-1.0,-0.6,-0.1,-0.8,-0.5,0.0,-0.7,-0.4,-0.6,-0.9,-0.1,-0.5,-0.7],
]

# axis ticks
tick_years = [2009, 2010, 2011, 2012, 2013, 2014, 2015, 2016]
tick_months = [1, 3, 5, 7, 9, 11]
y_ticks = list(range(-28, 1))

# ---------------- build frames ----------------
def frame(pts):
    return pd.DataFrame(pts, columns=["date", "value"])

def noise_frame(start, chunks, step, end_value):
    vals = [v for c in chunks for v in c]
    dates = pd.date_range(start, periods=len(vals), freq=step).strftime("%Y-%m-%d")
    head = pd.DataFrame({"date": ["2009-01-06", "2009-10-20"], "value": [0.0, 0.0]})
    body = pd.DataFrame({"date": list(dates), "value": vals})
    body = body[body["date"] < "2016-12-30"]
    tail = pd.DataFrame({"date": ["2016-12-30"], "value": [end_value]})
    return pd.concat([head, body, tail], ignore_index=True)

pink_df = noise_frame(pink_start, [pink_2009, pink_2010, pink_2011, pink_2012, pink_2013, pink_2014, pink_2015, pink_2016], "14D", -0.6)
teal_df = noise_frame(teal_start, [teal_2009, teal_2010, teal_2011, teal_2012, teal_2013, teal_2014, teal_2015, teal_2016], "14D", -0.6)
red2_df = noise_frame(red2_start, red2_vals, "21D", -0.7)
blue2_df = noise_frame(blue2_start, blue2_vals, "21D", -0.5)
purple2_df = noise_frame(purple2_start, purple2_vals, "21D", -0.8)
pink2_df = noise_frame(pink2_start, pink2_vals, "21D", -0.4)

# ---------------- axes / scales ----------------
x_start = alt.DateTime(year=2008, month=12, date=11, utc=True)
x_end = alt.DateTime(year=2017, month=1, date=13, utc=True)
x_values = [x_start]
for yr in tick_years:
    for mo in tick_months:
        if yr == 2009 and mo == 1:
            continue
        x_values.append(alt.DateTime(year=yr, month=mo, date=1, utc=True))

FONT = "Liberation Sans"
x_axis = alt.Axis(
    values=x_values,
    labelExpr="utcmonth(datum.value) == 0 ? \"'\" + utcFormat(datum.value, '%y') : (utcmonth(datum.value) == 11 ? \"'\" + substring(toString(utcyear(datum.value) + 1), 2, 4) : utcFormat(datum.value, '%b'))",
    grid=True,
    gridColor={"condition": {"test": "utcmonth(datum.value) == 0 && utcdate(datum.value) == 1", "value": "#a9a9a9"}, "value": "#e8e8e8"},
    gridWidth=1,
    ticks=False,
    domainColor="#a0a0a0",
    domainWidth=2,
    labelFont=FONT,
    labelFontSize=16.5,
    labelColor="#1a1a1a",
    labelPadding=10,
    labelFlush=True,
    labelOverlap=False,
    title=None,
)
y_axis = alt.Axis(
    values=y_ticks,
    labelExpr="(datum.value < 0 ? '-' : '') + format(abs(datum.value), '.2f') + '%'",
    grid=True,
    gridColor="#e8e8e8",
    gridWidth=1,
    ticks=False,
    domainColor="#666666",
    domainWidth=1,
    labelFont=FONT,
    labelFontSize=17,
    labelColor="#1a1a1a",
    labelPadding=9,
    labelOverlap=False,
    title=None,
)
X = alt.X("date:T", scale=alt.Scale(domain=[x_start, x_end]), axis=x_axis)
Y = alt.Y("value:Q", scale=alt.Scale(domain=[-29.52, 0.28], nice=False, zero=False), axis=y_axis)

area = alt.Chart(frame(grey_pts)).mark_area(color="#c0c0c0", opacity=1, interpolate="linear").encode(
    x=X, y=Y, y2=alt.datum(0)
)

def line(df, color, step=False, width=2.5):
    return alt.Chart(df).mark_line(
        color=color, strokeWidth=width, interpolate="step-after" if step else "linear"
    ).encode(x=X, y=Y)

layers = [
    area,
    line(frame(green_pts), "#4e8f3e", step=True),
    line(frame(darkgreen_pts), "#004400", step=True),
    line(frame(orange_pts), "#f79646", step=True),
    line(frame(red_pts), "#c0504d", step=True),
    line(red2_df, "#c0504d"),
    line(frame(darkred_pts), "#a02630", step=True),
    line(blue2_df, "#4f81bd"),
    line(frame(blue_pts), "#4f81bd"),
    line(teal_df, "#4a8c88"),
    line(purple2_df, "#8064a2"),
    line(frame(purple_pts), "#8064a2"),
    line(pink2_df, "#ff77bb"),
    line(pink_df, "#ff77bb"),
]

chart = alt.layer(*layers).properties(
    width=2107,
    height=864,
    autosize=alt.AutoSizeParams(type="none"),
    padding={"left": 78, "top": 0, "right": 0, "bottom": 40},
).configure_view(strokeWidth=0)

chart.save("out.html", embed_options={"renderer": "svg", "actions": False})
